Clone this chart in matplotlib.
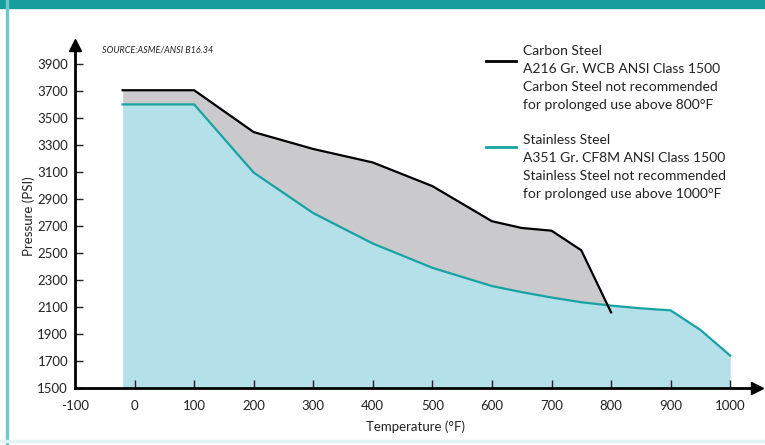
import numpy as np
import matplotlib.pyplot as plt
from matplotlib.patches import Rectangle

plt.rcParams['font.family'] = ['Lato', 'DejaVu Sans']
plt.rcParams['axes.unicode_minus'] = False

# ASME B16.34 Class 1500 ratings
cs_temp = [-20, 100, 200, 300, 400, 500, 600, 650, 700, 750, 800]
cs_psi = [3705, 3705, 3395, 3270, 3170, 2995, 2735, 2685, 2665, 2520, 2060]

ss_temp = [-20, 100, 200, 300, 400, 500, 600, 650, 700, 750, 800, 850, 900, 950, 1000]
ss_psi = [3600, 3600, 3095, 2795, 2570, 2390, 2255, 2210, 2170, 2135, 2110, 2090, 2075, 1930, 1740]

xticks = list(range(-100, 1001, 100))
yticks = list(range(1500, 3901, 200))

teal = '#17a2a4'
fig = plt.figure(figsize=(7.65, 4.45), dpi=100)
fig.patches.append(Rectangle((0, 1 - 8 / 445), 1, 8 / 445, transform=fig.transFigure,
                             color='#159e9c', zorder=0))
fig.patches.append(Rectangle((6 / 765, 0), 2 / 765, 1, transform=fig.transFigure,
                             color='#6cc9cf', zorder=0))
fig.patches.append(Rectangle((0, 3 / 445), 1, 2 / 445, transform=fig.transFigure,
                             color='#e3f3f5', zorder=0))

ax = fig.add_axes([75 / 765, 57 / 445, 682 / 765, 343 / 445])
ax.set_xlim(-100, 1045)
ax.set_ylim(1500, 4040)

# fills
ax.fill_between(ss_temp, 1500, ss_psi, color='#b4e0e9', lw=0)
ss_at_cs = np.interp(cs_temp, ss_temp, ss_psi)
ax.fill_between(cs_temp, ss_at_cs, cs_psi, where=np.array(cs_psi) >= ss_at_cs,
                interpolate=True, color='#cacacc', lw=0)

ax.plot(ss_temp, ss_psi, color=teal, lw=1.6, solid_joinstyle='round')
ax.plot(cs_temp, cs_psi, color='black', lw=1.6, solid_joinstyle='round')

for s in ['top', 'right']:
    ax.spines[s].set_visible(False)
for s in ['left', 'bottom']:
    ax.spines[s].set_linewidth(2)
ax.plot(1, 0, '>', color='black', ms=9, transform=ax.transAxes, clip_on=False)
ax.plot(0, 1, '^', color='black', ms=9, transform=ax.transAxes, clip_on=False)

ax.set_xticks(xticks)
ax.set_yticks(yticks)
ax.tick_params(axis='both', direction='in', length=6, width=1, labelsize=9.5,
               colors='#222222')
ax.tick_params(axis='x', pad=9)
ax.tick_params(axis='y', pad=5)
ax.xaxis.get_major_ticks()[0].tick1line.set_visible(False)

ax.set_xlabel('Temperature (°F)', fontsize=9.5, labelpad=6, color='#222222')
ax.set_ylabel('Pressure (PSI)', fontsize=9.5, labelpad=2, color='#222222')

ax.text(0.04, 0.985, 'SOURCE:ASME/ANSI B16.34', transform=ax.transAxes,
        fontsize=6.5, style='italic', color='#222222', va='center')

# legend
legend_items = [
    ('black', ['Carbon Steel', 'A216 Gr. WCB ANSI Class 1500',
               'Carbon Steel not recommended', 'for prolonged use above 800°F'], 4043, 3922),
    (teal, ['Stainless Steel', 'A351 Gr. CF8M ANSI Class 1500',
            'Stainless Steel not recommended', 'for prolonged use above 1000°F'], 3379, 3287),
]
for color, lines, ytop, yline in legend_items:
    ax.plot([590, 640], [yline, yline], color=color, lw=2, clip_on=False)
    ax.text(652, ytop, '\n'.join(lines), fontsize=10, color='#222222',
            va='top', ha='left', linespacing=1.6)

fig.savefig('out.png', dpi=100)
